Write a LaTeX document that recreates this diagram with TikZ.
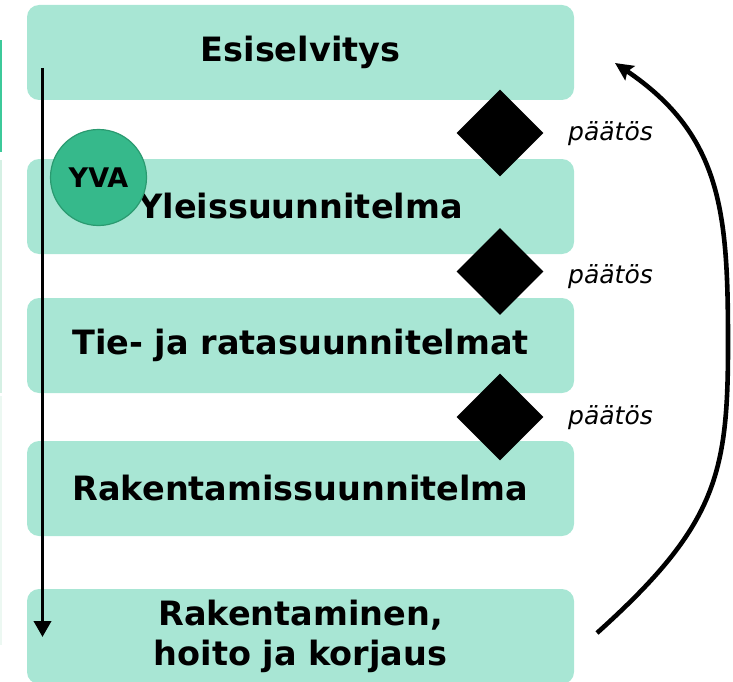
\documentclass[tikz,border=0pt]{standalone}
\usepackage{fontspec}
\setmainfont{DejaVu Sans}
\usetikzlibrary{shapes.geometric,arrows.meta}
\definecolor{boxgreen}{HTML}{A8E6D4}
\definecolor{yvagreen}{HTML}{36B98B}
\definecolor{yvaedge}{HTML}{2A9A70}
\definecolor{stripA}{HTML}{3CC99A}
\definecolor{stripB}{HTML}{D5F0E4}
\definecolor{stripC}{HTML}{ECF8F2}
\newcommand\phasefont{\fontsize{33.5}{40}\selectfont\bfseries}
\begin{document}
\begin{tikzpicture}[x=1pt,y=-1pt,
  phase/.style={rectangle, rounded corners=12pt, fill=boxgreen, minimum width=547pt,
    minimum height=95pt, inner sep=0pt, align=center, font=\phasefont},
  gate/.style={diamond, fill=black, minimum width=87pt, minimum height=87pt, inner sep=0pt, aspect=1},
  gatelabel/.style={anchor=west, inner sep=0pt, font=\fontsize{25}{28}\selectfont\itshape},
  yvacircle/.style={circle, fill=yvagreen, draw=yvaedge, line width=1.2pt, minimum size=96pt,
    inner sep=0pt, font=\fontsize{27}{30}\selectfont\bfseries},
  flowarrow/.style={line width=3.6pt, -{Triangle[length=16pt,width=17pt]}},
  loopback/.style={line width=4.6pt, -{Stealth[length=18pt,width=17pt,inset=3pt]}}
]
\useasboundingbox (0,0) rectangle (733,682);
% left edge strips
\fill[stripA] (0,40) rectangle (2,152);
\fill[stripB] (0,160) rectangle (2,393);
\fill[stripC] (0,396) rectangle (2,645);
% phases
\node[phase] (b1) at (300.5,52.5) {Esiselvitys};
\node[phase] (b2) at (300.5,206.5) {Yleissuunnitelma};
\node[phase] (b3) at (300.5,345.5) {Tie- ja ratasuunnitelmat};
\node[phase] (b4) at (300.5,488.5) {Rakentamissuunnitelma};
\node[phase] (b5) at (300.5,636.5) {Rakentaminen,\\hoito ja korjaus};
% decision gates
\node[gate] (d1) at (500,133) {};
\node[gate] (d2) at (500,271.5) {};
\node[gate] (d3) at (500,417) {};
\node[gatelabel] (p1) at (568,134) {päätös};
\node[gatelabel] (p2) at (568,277) {päätös};
\node[gatelabel] (p3) at (568,418) {päätös};
% YVA
\node[yvacircle] (yva) at (98.5,177.5) {YVA};
% vertical flow arrow
\coordinate (vtop) at (42.5,68);
\coordinate (vbot) at (42.5,637);
\draw[flowarrow] (vtop) -- (vbot);
% loop back arrow
\coordinate (cstart) at (597,633);
\coordinate (cmid) at (728,345);
\coordinate (cend) at (615,63);
\draw[loopback] (cstart) .. controls +(119,-107) and +(0,130) .. (cmid)
  .. controls +(0,-130) and +(108,73) .. (cend);
\end{tikzpicture}
\end{document}
